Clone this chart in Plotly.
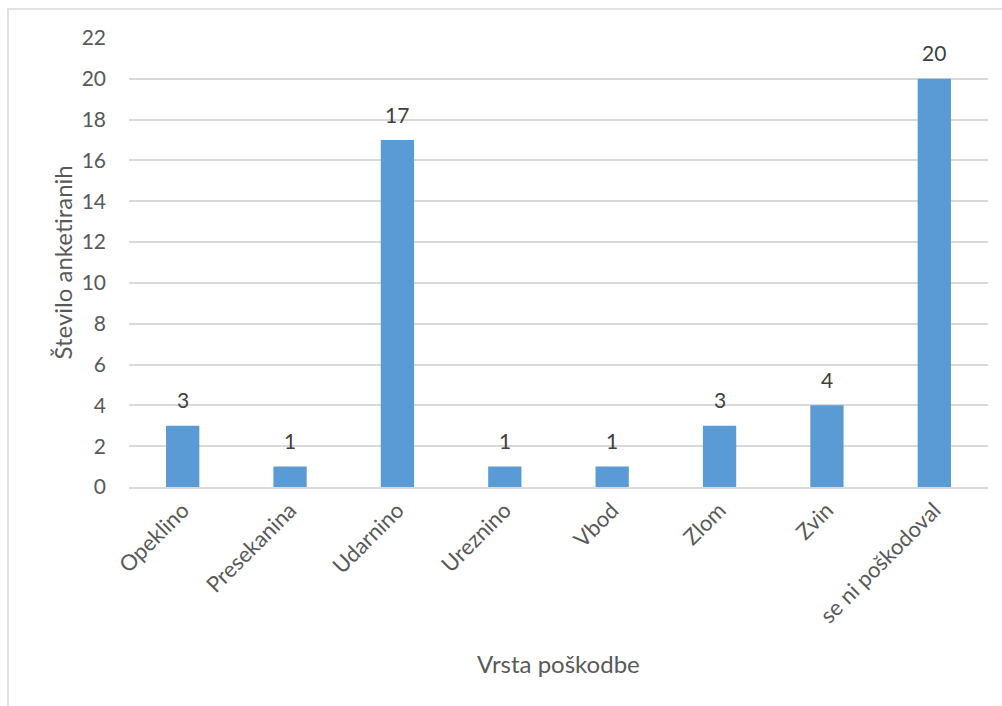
import plotly.graph_objects as go

categories = ["Opeklino", "Presekanina", "Udarnino", "Ureznino", "Vbod", "Zlom", "Zvin", "se ni poškodoval"]
values = [3, 1, 17, 1, 1, 3, 4, 20]
y_ticks = [0, 2, 4, 6, 8, 10, 12, 14, 16, 18, 20, 22]

L, R, T, B = 129, 14, 38, 219
W, H = 1002, 706
pw, ph = W - L - R, H - T - B
FONT = "Lato, Open Sans, sans-serif"
GREY = "#595959"

fig = go.Figure(go.Bar(
    x=categories, y=values,
    marker=dict(color="#5B9BD5", line=dict(width=0)),
    hoverinfo="x+y",
))

annotations = [
    dict(x=c, y=v, xref="x", yref="y", text=str(v), showarrow=False,
         yanchor="middle", yshift=26,
         font=dict(family=FONT, size=21, color="#404040"))
    for c, v in zip(categories, values)
]
annotations.append(dict(text="Vrsta poškodbe", xref="paper", yref="paper",
                        x=0.5, y=(T + ph - 663) / ph, showarrow=False,
                        xanchor="center", yanchor="middle",
                        font=dict(family=FONT, size=24, color=GREY)))
annotations.append(dict(text="Število anketiranih", xref="paper", yref="paper",
                        x=(62 - L) / pw, y=0.5, showarrow=False, textangle=-90,
                        xanchor="center", yanchor="middle",
                        font=dict(family=FONT, size=24, color=GREY)))

fig.update_layout(
    width=W, height=H,
    margin=dict(l=L, r=R, t=T, b=B),
    paper_bgcolor="white", plot_bgcolor="white",
    bargap=0.69,
    showlegend=False,
    font=dict(family=FONT, color=GREY),
    annotations=annotations,
    shapes=[dict(type="rect", xref="paper", yref="paper",
                 x0=(8 - L) / pw, x1=(W + 10 - L) / pw,
                 y0=-(H + 10 - T - ph) / ph, y1=1 + (T - 9) / ph,
                 line=dict(color="#D9D9D9", width=1.5), layer="below")],
)
fig.update_xaxes(
    tickangle=-45, tickfont=dict(size=22, color=GREY),
    showline=True, linecolor="#D9D9D9", linewidth=1.5,
    ticks="", showgrid=False,
)
fig.update_yaxes(
    range=[0, 22], tickvals=y_ticks, tickfont=dict(size=21, color=GREY),
    showgrid=True, gridcolor="#D9D9D9", gridwidth=1.5,
    zeroline=False, showline=False, ticks="", ticklabelstandoff=22,
)

fig.write_html("out.html")
